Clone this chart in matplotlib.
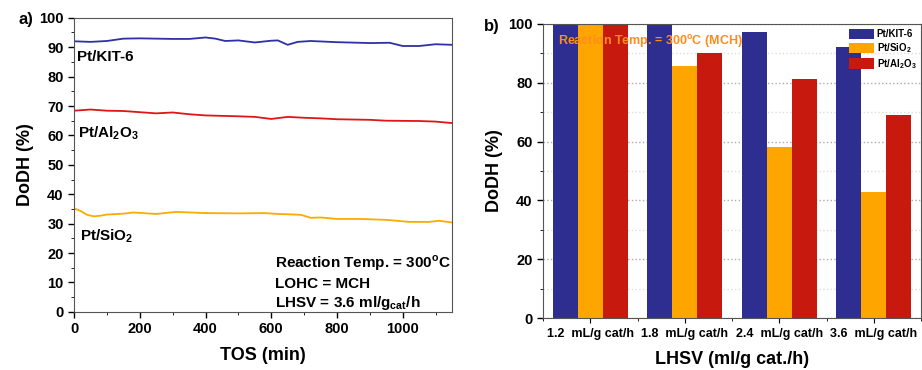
import numpy as np
import matplotlib.pyplot as plt
from matplotlib.ticker import MultipleLocator

plt.rcParams['font.family'] = 'Liberation Sans'
plt.rcParams['font.weight'] = 'bold'

# ---- panel a: DoDH vs time on stream ----
kit_t = [0, 50, 100, 150, 200, 300, 350, 400, 430, 460, 500, 550, 600, 620, 650, 680, 720, 800, 900, 960, 1000, 1050, 1100, 1150]
kit_y = [92, 91.8, 92.1, 92.9, 93, 92.8, 92.8, 93.3, 92.9, 92.1, 92.3, 91.6, 92.2, 92.3, 90.8, 91.8, 92.1, 91.7, 91.4, 91.5, 90.4, 90.4, 91.0, 90.8]
al_t = [0, 50, 100, 150, 200, 250, 300, 350, 400, 500, 550, 600, 650, 700, 750, 800, 900, 950, 1050, 1100, 1150]
al_y = [68.4, 68.8, 68.4, 68.3, 67.9, 67.5, 67.8, 67.2, 66.8, 66.5, 66.3, 65.6, 66.3, 66.0, 65.8, 65.5, 65.3, 65.0, 64.9, 64.7, 64.2]
si_t = [0, 20, 40, 60, 80, 100, 150, 180, 250, 310, 400, 500, 580, 620, 650, 690, 720, 750, 800, 870, 950, 1020, 1080, 1110, 1150]
si_y = [35.2, 34.3, 33.0, 32.5, 32.7, 33.1, 33.4, 33.8, 33.3, 34.0, 33.6, 33.5, 33.6, 33.3, 33.2, 33.0, 32.0, 32.1, 31.6, 31.6, 31.3, 30.6, 30.6, 31.0, 30.4]

# ---- panel b: DoDH vs LHSV ----
lhsv_labels = ['1.2  mL/g cat/h', '1.8  mL/g cat/h', '2.4  mL/g cat/h', '3.6  mL/g cat/h']
dodh_kit = [100, 100, 97.3, 92]
dodh_si = [100, 85.7, 58.3, 43]
dodh_al = [100, 90, 81.3, 69]

blue = '#2e2e91'
orange = '#ffa500'
red = '#c8190f'

fig = plt.figure(figsize=(9.22, 3.7), dpi=100)

ax1 = fig.add_axes([0.0803, 0.157, 0.41, 0.795])
ax1.plot(kit_t, kit_y, color='#2f2fa8', lw=1.3)
ax1.plot(al_t, al_y, color='#e01515', lw=1.3)
ax1.plot(si_t, si_y, color='#ffaa00', lw=1.3)
ax1.set_xlim(0, 1150)
ax1.set_ylim(0, 100)
ax1.xaxis.set_major_locator(MultipleLocator(200))
ax1.xaxis.set_minor_locator(MultipleLocator(100))
ax1.yaxis.set_major_locator(MultipleLocator(10))
ax1.yaxis.set_minor_locator(MultipleLocator(5))
ax1.tick_params(labelsize=10.5, width=1, length=4)
ax1.tick_params(which='minor', length=2.5)
ax1.set_xlabel('TOS (min)', fontsize=13, fontweight='bold', labelpad=8)
ax1.set_ylabel('DoDH (%)', fontsize=13, fontweight='bold')
for s in ax1.spines.values():
    s.set_color('#555555')
ax1.text(8, 85.3, 'Pt/KIT-6', fontsize=11)
ax1.text(12, 59.3, 'Pt/Al$_\\mathregular{2}$O$_\\mathregular{3}$', fontsize=11)
ax1.text(18, 24.5, 'Pt/SiO$_\\mathregular{2}$', fontsize=11)
ax1.text(610, 15, 'Reaction Temp. = 300$^\\mathregular{o}$C', fontsize=11)
ax1.text(610, 8, 'LOHC = MCH', fontsize=11)
ax1.text(610, 1.6, 'LHSV = 3.6 ml/g$_\\mathregular{cat}$/h', fontsize=11)
fig.text(0.02, 0.935, 'a)', fontsize=12, fontweight='bold')

ax2 = fig.add_axes([0.589, 0.1405, 0.41, 0.795])
x = np.arange(len(lhsv_labels))
w = 0.265
ax2.bar(x - w, dodh_kit, w, color=blue, label='Pt/KIT-6', zorder=2)
ax2.bar(x, dodh_si, w, color=orange, label='Pt/SiO$_\\mathregular{2}$', zorder=2)
ax2.bar(x + w, dodh_al, w, color=red, label='Pt/Al$_\\mathregular{2}$O$_\\mathregular{3}$', zorder=2)
ax2.set_xlim(-0.5, 3.5)
ax2.set_ylim(0, 100)
ax2.set_xticks(x)
ax2.set_xticklabels(lhsv_labels, fontsize=9)
ax2.xaxis.set_minor_locator(MultipleLocator(0.5))
ax2.yaxis.set_major_locator(MultipleLocator(20))
ax2.yaxis.set_minor_locator(MultipleLocator(10))
ax2.tick_params(axis='y', labelsize=10.5, width=1, length=4)
ax2.tick_params(which='minor', length=2.5)
ax2.grid(True, which='major', axis='y', ls=':', color='#aaaaaa', lw=1, zorder=0)
ax2.grid(True, which='minor', axis='y', ls=':', color='#dddddd', lw=1, zorder=0)
ax2.set_axisbelow(True)
ax2.set_xlabel('LHSV (ml/g cat./h)', fontsize=13, fontweight='bold', labelpad=8)
ax2.set_ylabel('DoDH (%)', fontsize=13, fontweight='bold')
for s in ax2.spines.values():
    s.set_color('#555555')
ax2.text(0.04, 0.93, 'Reaction Temp. = 300$^\\mathregular{o}$C (MCH)', transform=ax2.transAxes,
         fontsize=9, color='#ff8c1a', fontweight='bold', zorder=5)
ax2.legend(loc='upper right', fontsize=7, frameon=False, handlelength=2.5, handleheight=1.3,
           borderaxespad=0.1, labelspacing=0.2, handletextpad=0.3)
fig.text(0.525, 0.915, 'b)', fontsize=12, fontweight='bold')

fig.savefig('out.png', dpi=100)
